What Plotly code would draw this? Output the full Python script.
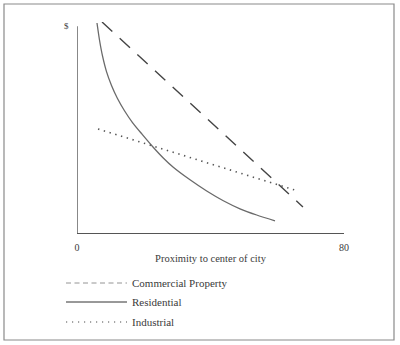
import plotly.graph_objects as go

# Land value (bid-rent) curves against proximity to the city centre
commercial_x = [7.5, 67.7]
commercial_y = [10.2, 1.26]

residential_x = [5.99, 6.74, 7.64, 8.84, 10.34, 12.13, 14.23, 16.63, 19.48,
                 22.77, 25.77, 28.76, 33.86, 38.86, 43.84, 48.84, 53.84, 59.33]
residential_y = [10.15, 9.33, 8.56, 7.80, 7.13, 6.50, 5.91, 5.34, 4.78,
                 4.16, 3.64, 3.19, 2.57, 2.03, 1.56, 1.17, 0.87, 0.59]

industrial_x = [6.3, 66.2]
industrial_y = [5.03, 2.03]

x_ticks = [0, 80]
x_tick_text = ["0", "80"]

legend_names = ["Commercial Property", "Residential", "Industrial"]
legend_dashes = ["5px,3.5px", "solid", "1.2px,4.8px"]

FONT = "Liberation Serif, DejaVu Serif, serif"
INK = "#3a3a3a"

W, H = 400, 345
ML, MR, MT, MB = 77, 56, 22, 112
PW, PH = W - ML - MR, H - MT - MB


def px_to_paper(px, py):
    return (px - ML) / PW, (H - MB - py) / PH


fig = go.Figure()

fig.add_trace(go.Scatter(
    x=residential_x, y=residential_y, mode="lines",
    line=dict(color="#6a6a6a", width=1.3, shape="spline", smoothing=0.7),
    showlegend=False, hoverinfo="skip"))
fig.add_trace(go.Scatter(
    x=commercial_x, y=commercial_y, mode="lines",
    line=dict(color="#444444", width=1.4, dash="14px,10px"),
    showlegend=False, hoverinfo="skip"))
fig.add_trace(go.Scatter(
    x=industrial_x, y=industrial_y, mode="lines",
    line=dict(color="#555555", width=1.6, dash="1.4px,4.6px"),
    showlegend=False, hoverinfo="skip"))

shapes = []
# vertical axis line
shapes.append(dict(type="line", xref="x", yref="y", x0=0, x1=0, y0=0, y1=10,
                   line=dict(color="#555555", width=1.4)))
# outer frame
fx0, fy0 = px_to_paper(4, 340)
fx1, fy1 = px_to_paper(394, 4)
shapes.append(dict(type="rect", xref="paper", yref="paper",
                   x0=fx0, y0=fy0, x1=fx1, y1=fy1,
                   line=dict(color="#8a8a8a", width=1.2)))

annotations = [
    dict(text="$", xref="paper", yref="paper",
         x=px_to_paper(66, 26)[0], y=px_to_paper(66, 26)[1],
         showarrow=False, font=dict(family=FONT, size=9, color=INK),
         xanchor="center", yanchor="middle"),
]

# hand-drawn key beneath the axes
rows_y = [283, 302, 322]
for name, dash, ry in zip(legend_names, legend_dashes, rows_y):
    lx0, ly = px_to_paper(66, ry)
    lx1, _ = px_to_paper(127, ry)
    width = 1.0 if dash == "solid" else (0.9 if dash.startswith("5") else 1.3)
    color = "#333333" if dash == "solid" else "#888888"
    shapes.append(dict(type="line", xref="paper", yref="paper",
                       x0=lx0, x1=lx1, y0=ly, y1=ly,
                       line=dict(color=color, width=width, dash=dash)))
    tx, _ = px_to_paper(130, ry)
    annotations.append(dict(text=name, xref="paper", yref="paper", x=tx, y=ly,
                            showarrow=False, xanchor="left", yanchor="middle",
                            font=dict(family=FONT, size=11, color=INK)))

fig.update_layout(
    width=W, height=H,
    margin=dict(l=ML, r=MR, t=MT, b=MB),
    paper_bgcolor="white", plot_bgcolor="white",
    shapes=shapes, annotations=annotations,
    xaxis=dict(range=[0, 80], tickvals=x_ticks, ticktext=x_tick_text,
               ticks="", showgrid=False, zeroline=False,
               showline=True, linecolor="#555555", linewidth=1.4,
               ticklabelstandoff=5,
               tickfont=dict(family=FONT, size=10, color=INK),
               title=dict(text="Proximity to center of city", standoff=2,
                          font=dict(family=FONT, size=10.5, color=INK))),
    yaxis=dict(range=[0, 10.2], showticklabels=False, ticks="",
               showgrid=False, zeroline=False, showline=False),
)

fig.write_html("out.html")
